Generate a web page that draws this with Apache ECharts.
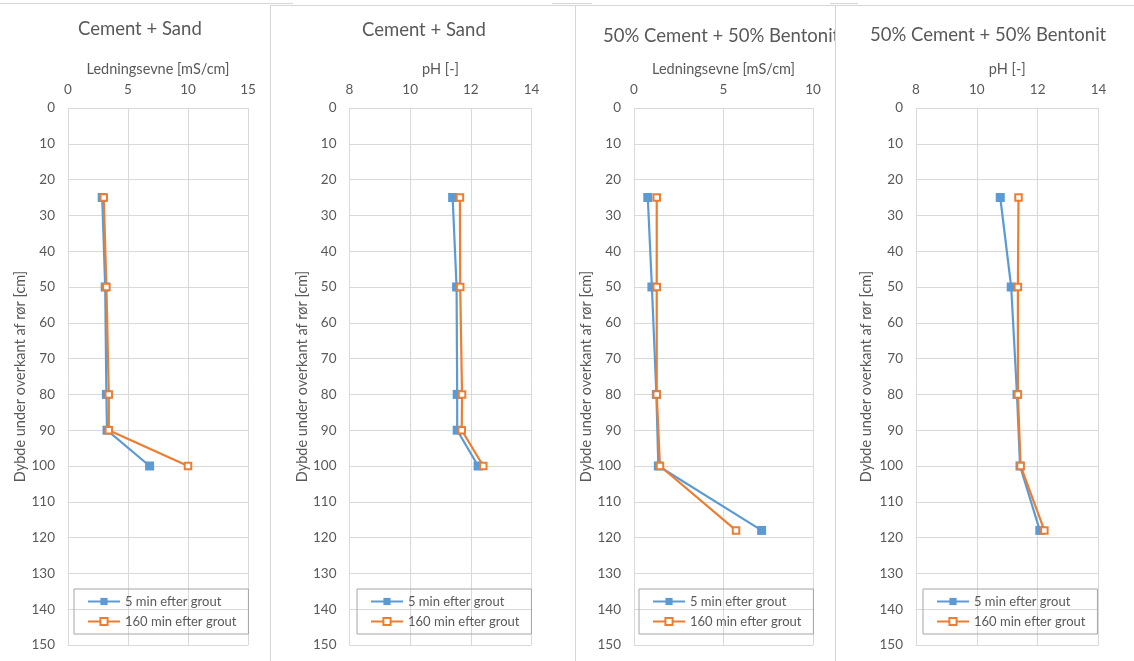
<!DOCTYPE html>
<html><head><meta charset="utf-8">
<script src="https://cdn.jsdelivr.net/npm/echarts@6/dist/echarts.min.js"></script>
<style>
html,body{margin:0;padding:0;background:#fff;width:1134px;height:661px;overflow:hidden;position:relative}
.c{position:absolute;top:0;height:661px}
.b{position:absolute;border-color:#d6d6d6;border-style:solid;border-width:0}
</style></head><body>
<div class="b" style="left:0;top:3px;width:293px;height:0;border-top-width:1px"></div>
<div class="b" style="left:552px;top:3px;width:40px;height:0;border-top-width:1px"></div>
<div class="b" style="left:830px;top:3px;width:28px;height:0;border-top-width:1px"></div>
<div class="b" style="left:270px;top:5px;width:304px;height:670px;border-width:1px 1px 0 1px;background:#fff"></div>
<div class="b" style="left:575px;top:5px;width:259px;height:670px;border-width:1px 1px 0 1px;background:#fff"></div>
<div class="b" style="left:835px;top:5px;width:310px;height:670px;border-width:1px 0 0 1px;background:#fff"></div>
<div id="p1" class="c" style="left:0;width:270px"></div>
<div id="p2" class="c" style="left:270px;width:305px"></div>
<div id="p3" class="c" style="left:575px;width:260px"></div>
<div id="p4" class="c" style="left:835px;width:299px"></div>
<script>
// ---- data ----
const seriesNames = ['5 min efter grout', '160 min efter grout'];
const titles = ['Cement + Sand', 'Cement + Sand', '50% Cement + 50% Bentonit', '50% Cement + 50% Bentonit'];
const xNames = ['Ledningsevne [mS/cm]', 'pH [-]', 'Ledningsevne [mS/cm]', 'pH [-]'];
const yName = 'Dybde under overkant af rør [cm]';

const depthCS = [25, 50, 80, 90, 100];
const csCond5 = [2.85, 3.1, 3.2, 3.25, 6.8];
const csCond160 = [2.98, 3.2, 3.4, 3.4, 10.0];
const csPh5 = [11.4, 11.53, 11.55, 11.55, 12.24];
const csPh160 = [11.64, 11.65, 11.71, 11.7, 12.41];

const depthCB = [25, 50, 80, 100, 118];
const cbCond5 = [0.77, 1.0, 1.25, 1.36, 7.13];
const cbCond160 = [1.27, 1.27, 1.27, 1.45, 5.7];
const cbPh5 = [10.77, 11.13, 11.32, 11.42, 12.07];
const cbPh160 = [11.37, 11.35, 11.35, 11.44, 12.22];

// ---- layout/styling ----
const FONT = 'Lato, "Open Sans", sans-serif';
const TXT = '#595959';
const BLUE = '#5B9BD5', ORANGE = '#ED7D31';

function pairs(xs, ys) { return xs.map((x, i) => [x, ys[i]]); }

const panels = [
  { id: 'p1', title: titles[0], xName: xNames[0], xmin: 0, xmax: 15, xint: 5, depth: depthCS, s5: csCond5, s160: csCond160,
    grid: { left: 68, right: 22 }, titleLeft: 78, titleTop: 20, legendLeft: 74, yNameGap: 40 },
  { id: 'p2', title: titles[1], xName: xNames[1], xmin: 8, xmax: 14, xint: 2, depth: depthCS, s5: csPh5, s160: csPh160,
    grid: { left: 79.5, right: 43.5 }, titleLeft: 92, titleTop: 21, legendLeft: 87, yNameGap: 40 },
  { id: 'p3', title: titles[2], xName: xNames[2], xmin: 0, xmax: 10, xint: 5, depth: depthCB, s5: cbCond5, s160: cbCond160,
    grid: { left: 59, right: 22 }, titleLeft: 28, titleTop: 27, legendLeft: 64, yNameGap: 40 },
  { id: 'p4', title: titles[3], xName: xNames[3], xmin: 8, xmax: 14, xint: 2, depth: depthCB, s5: cbPh5, s160: cbPh160,
    grid: { left: 81, right: 35.5 }, titleLeft: 35, titleTop: 26, legendLeft: 88, yNameGap: 42 }
];

panels.forEach(p => {
  const chart = echarts.init(document.getElementById(p.id), null, { renderer: 'canvas' });
  chart.setOption({
    animation: false,
    textStyle: { fontFamily: FONT },
    title: {
      text: p.title, left: p.titleLeft, top: p.titleTop, padding: 0,
      textStyle: { fontFamily: FONT, fontSize: 18.5, fontWeight: 'normal', color: TXT }
    },
    grid: { left: p.grid.left, right: p.grid.right, top: 108, bottom: 16, containLabel: false, outerBoundsMode: 'none' },
    xAxis: {
      type: 'value', position: 'top', min: p.xmin, max: p.xmax, interval: p.xint,
      name: p.xName, nameLocation: 'middle', nameGap: 31, nameMoveOverlap: false,
      nameTextStyle: { fontFamily: FONT, fontSize: 14.5, color: TXT },
      axisLine: { show: false }, axisTick: { show: false },
      axisLabel: { fontFamily: FONT, fontSize: 13.5, color: TXT, margin: 11 },
      splitLine: { show: true, lineStyle: { color: '#d9d9d9', width: 1 } }
    },
    yAxis: {
      type: 'value', inverse: true, min: 0, max: 150, interval: 10,
      name: yName, nameLocation: 'middle', nameGap: p.yNameGap, nameMoveOverlap: false,
      nameTextStyle: { fontFamily: FONT, fontSize: 14.5, color: TXT },
      axisLine: { show: false }, axisTick: { show: false },
      axisLabel: { fontFamily: FONT, fontSize: 13.5, color: TXT, margin: 13 },
      splitLine: { show: true, lineStyle: { color: '#d9d9d9', width: 1 } }
    },
    legend: {
      orient: 'vertical', left: p.legendLeft, top: 589,
      itemWidth: 32, itemHeight: 9, itemGap: 7,
      padding: [6, 12, 6, 13],
      borderColor: '#a6a6a6', borderWidth: 1,
      textStyle: { fontFamily: FONT, fontSize: 13, color: TXT },
      data: seriesNames
    },
    series: [
      { name: seriesNames[0], type: 'line', data: pairs(p.s5, p.depth),
        symbol: 'rect', symbolSize: 9,
        lineStyle: { color: BLUE, width: 2.2 },
        itemStyle: { color: BLUE, borderColor: BLUE, borderWidth: 0 } },
      { name: seriesNames[1], type: 'line', data: pairs(p.s160, p.depth),
        symbol: 'rect', symbolSize: 6.5,
        lineStyle: { color: ORANGE, width: 2.2 },
        itemStyle: { color: '#ffffff', borderColor: ORANGE, borderWidth: 2 } }
    ]
  });
});
</script>
</body></html>
